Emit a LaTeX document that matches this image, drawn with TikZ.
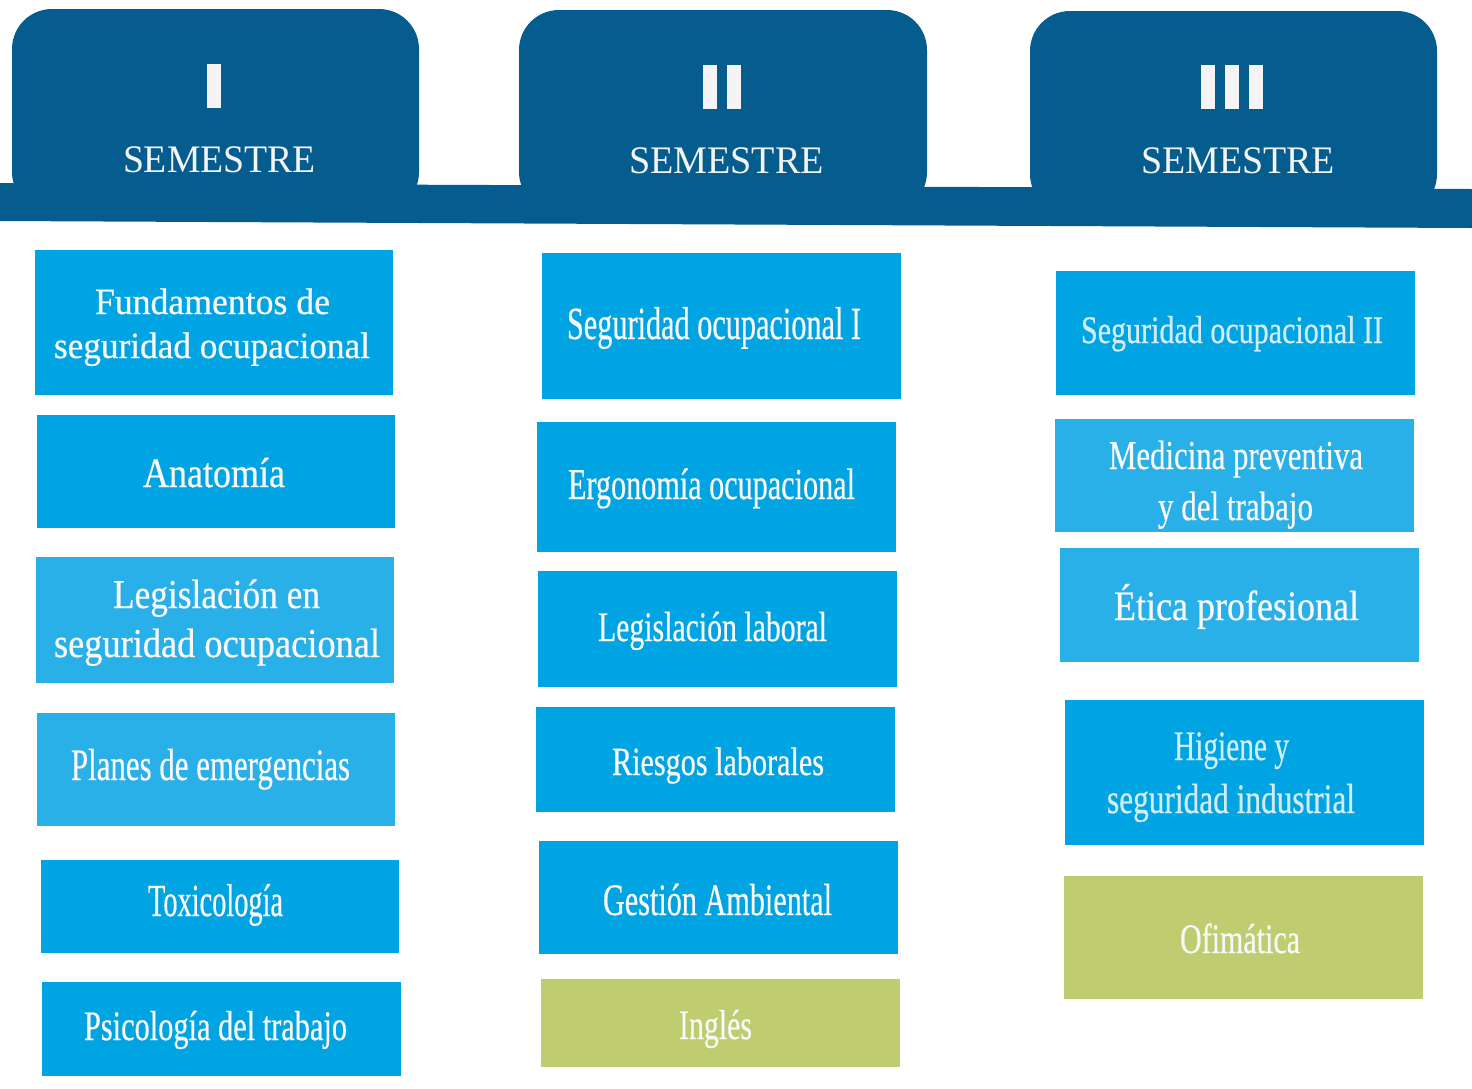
\documentclass[tikz,border=0pt]{standalone}
\usepackage{fontspec}
\setmainfont{Liberation Serif}
\newfontfamily\boxfont[FakeBold=0.6]{Liberation Serif}
\usepackage{graphicx}
\definecolor{hdrblue}{RGB}{4,93,142}
\definecolor{cdark}{RGB}{0,164,227}
\definecolor{clight}{RGB}{41,176,232}
\definecolor{cgreen}{RGB}{191,204,112}
\definecolor{twhite}{RGB}{248,248,248}
\definecolor{tpale}{RGB}{210,236,247}
\definecolor{barw}{RGB}{244,244,244}
\newlength\fitlen
\newcommand\fitline[2]{\settowidth\fitlen{#2}\pgfmathsetmacro\fitr{#1/\fitlen}\scalebox{\fitr}[1]{#2}}
\newcommand\fsz[1]{\boxfont\fontsize{#1}{#1}\selectfont}
\tikzset{
  subj/.style={rectangle, inner sep=0pt, draw=none},
  txt/.style={anchor=base, inner sep=0pt, text=twhite},
  hdrtxt/.style={anchor=base, inner sep=0pt, text=barw, font=\fontsize{39}{39}\selectfont},
  tab/.style={fill=hdrblue, rounded corners=40pt},
  romanbar/.style={fill=barw}
}
\begin{document}
\begin{tikzpicture}[x=1pt,y=-1pt]
\useasboundingbox (0,0) rectangle (1472,1088);
% header band and tabs
\fill[hdrblue] (0,183) -- (1472,189) -- (1472,228) -- (0,221) -- cycle;
\fill[tab] (12,9) rectangle (419,212);
\fill[tab] (519,10) rectangle (927,212);
\fill[tab] (1030,11) rectangle (1437,214);
% roman numerals
\fill[romanbar] (207,64) rectangle (221,108);
\fill[romanbar] (703,65) rectangle (717,109);
\fill[romanbar] (727,65) rectangle (741,109);
\fill[romanbar] (1201,65) rectangle (1215,109);
\fill[romanbar] (1225,65) rectangle (1239,109);
\fill[romanbar] (1249,65) rectangle (1263,109);
\node[hdrtxt] (s1) at (219.5,172) {\fitline{193}{SEMESTRE}};
\node[hdrtxt] (s2) at (726.5,173) {\fitline{195}{SEMESTRE}};
\node[hdrtxt] (s3) at (1238,173) {\fitline{194}{SEMESTRE}};

% column I
\node[subj, fill=cdark, minimum width=358pt, minimum height=145pt] (b11) at (214,322.5) {};
\node[subj, fill=cdark, minimum width=358pt, minimum height=113pt] (b12) at (216,471.5) {};
\node[subj, fill=clight, minimum width=358pt, minimum height=126pt] (b13) at (215,620) {};
\node[subj, fill=clight, minimum width=358pt, minimum height=113pt] (b14) at (216,769.5) {};
\node[subj, fill=cdark, minimum width=358pt, minimum height=93pt] (b15) at (219.5,906.5) {};
\node[subj, fill=cdark, minimum width=359pt, minimum height=94pt] (b16) at (221.5,1029) {};

\node[txt, font=\fsz{37}] (t11a) at (212.5,314) {\fitline{235}{Fundamentos de}};
\node[txt, font=\fsz{37}] (t11b) at (212,358) {\fitline{316}{seguridad ocupacional}};
\node[txt, font=\fsz{42}] (t12) at (214,487) {\fitline{142}{Anatomía}};
\node[txt, font=\fsz{41}] (t13a) at (216.5,608) {\fitline{207}{Legislación en}};
\node[txt, font=\fsz{41}] (t13b) at (217,657) {\fitline{326}{seguridad ocupacional}};
\node[txt, font=\fsz{45}] (t14) at (210.5,780) {\fitline{279}{Planes de emergencias}};
\node[txt, font=\fsz{46}] (t15) at (215.5,916) {\fitline{135}{Toxicología}};
\node[txt, font=\fsz{42}] (t16) at (215.5,1040) {\fitline{263}{Psicología del trabajo}};

% column II
\node[subj, fill=cdark, minimum width=359pt, minimum height=146pt] (b21) at (721.5,326) {};
\node[subj, fill=cdark, minimum width=359pt, minimum height=130pt] (b22) at (716.5,487) {};
\node[subj, fill=cdark, minimum width=359pt, minimum height=116pt] (b23) at (717.5,629) {};
\node[subj, fill=cdark, minimum width=359pt, minimum height=105pt] (b24) at (715.5,759.5) {};
\node[subj, fill=cdark, minimum width=359pt, minimum height=113pt] (b25) at (718.5,897.5) {};
\node[subj, fill=cgreen, minimum width=359pt, minimum height=88pt] (b26) at (720.5,1023) {};

\node[txt, font=\fsz{46}] (t21) at (714,339) {\fitline{294}{Seguridad ocupacional I}};
\node[txt, font=\fsz{44}] (t22) at (711.5,499) {\fitline{287}{Ergonomía ocupacional}};
\node[txt, font=\fsz{42}] (t23) at (712.5,641) {\fitline{229}{Legislación laboral}};
\node[txt, font=\fsz{40}] (t24) at (718,775) {\fitline{212}{Riesgos laborales}};
\node[txt, font=\fsz{45}] (t25) at (717.5,915) {\fitline{229}{Gestión Ambiental}};
\node[txt, font=\fsz{42}] (t26) at (715.5,1039) {\fitline{73}{Inglés}};

% column III
\node[subj, fill=cdark, minimum width=359pt, minimum height=124pt] (b31) at (1235.5,333) {};
\node[subj, fill=clight, minimum width=359pt, minimum height=113pt] (b32) at (1234.5,475) {};
\node[subj, fill=clight, minimum width=359pt, minimum height=114pt] (b33) at (1239.5,605) {};
\node[subj, fill=cdark, minimum width=359pt, minimum height=145pt] (b34) at (1244.5,772.5) {};
\node[subj, fill=cgreen, minimum width=359pt, minimum height=123pt] (b35) at (1243.5,937.5) {};

\node[txt, text=tpale, font=\fsz{39}] (t31) at (1232,343) {\fitline{302}{Seguridad ocupacional II}};
\node[txt, font=\fsz{41}] (t32a) at (1236,469) {\fitline{254}{Medicina preventiva}};
\node[txt, font=\fsz{41}] (t32b) at (1235.5,520) {\fitline{155}{y del trabajo}};
\node[txt, font=\fsz{42}] (t33) at (1236.5,620) {\fitline{245}{Ética profesional}};
\node[txt, text=tpale, font=\fsz{42}] (t34a) at (1231.5,760) {\fitline{115}{Higiene y}};
\node[txt, text=tpale, font=\fsz{42}] (t34b) at (1231,813) {\fitline{248}{seguridad industrial}};
\node[txt, font=\fsz{42}] (t35) at (1240,953) {\fitline{120}{Ofimática}};
\end{tikzpicture}
\end{document}
